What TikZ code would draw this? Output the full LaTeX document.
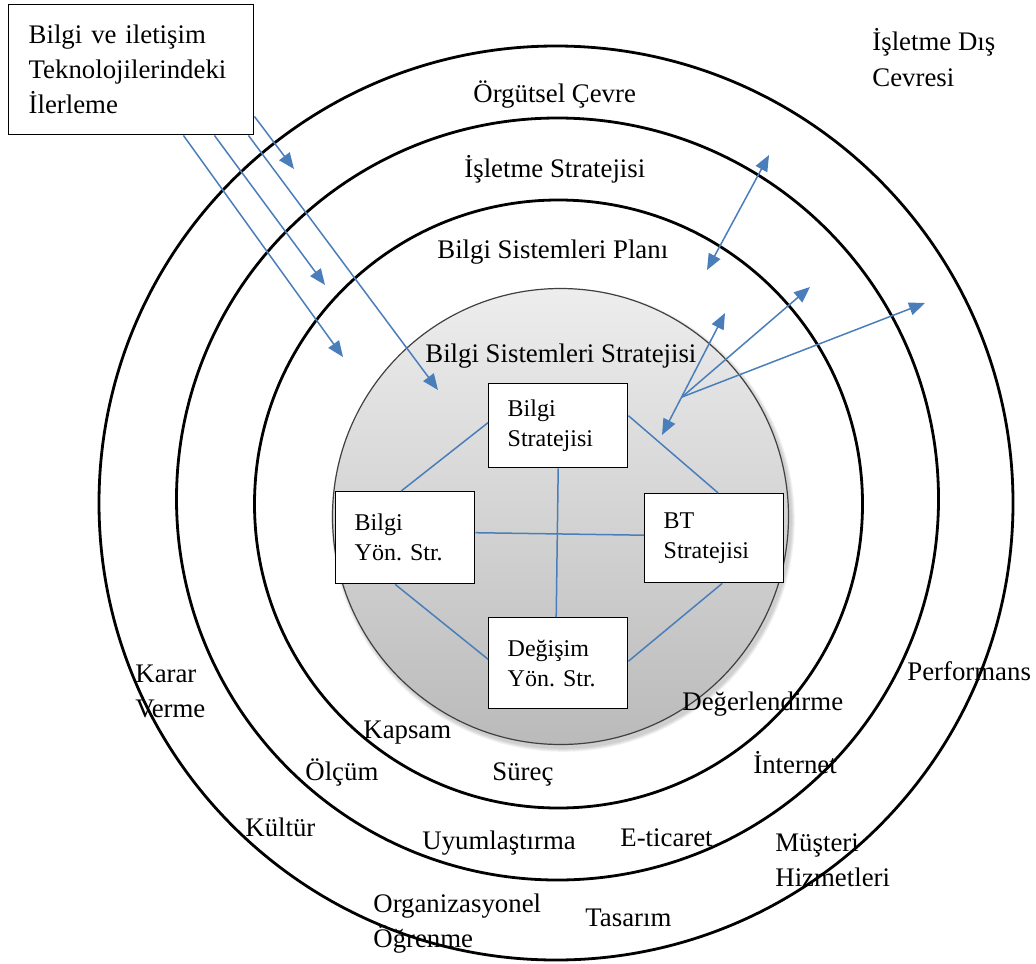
\documentclass[tikz,border=0pt]{standalone}
\usepackage{fontspec}
\setmainfont{Liberation Serif}
\usetikzlibrary{arrows.meta}
\definecolor{linkblue}{RGB}{74,126,187}
\begin{document}
\frenchspacing
\begin{tikzpicture}[x=0.5pt,y=-0.5pt,
  ring/.style={draw=black, line width=1.4pt},
  lbl/.style={anchor=base west, inner sep=0pt, align=left,
    font=\fontsize{13.4}{17.5}\selectfont},
  stratbox/.style={draw=black, line width=0.7pt, fill=white, anchor=north west,
    text width=50.5pt, inner xsep=9.5pt, align=left,
    font=\fontsize{12}{15}\selectfont},
  link/.style={draw=linkblue, line width=0.75pt},
  flow/.style={link, -{Triangle[length=8pt,width=6.5pt]}},
  both/.style={link, {Triangle[length=8pt,width=6.5pt]}-{Triangle[length=8pt,width=6.5pt]}}
]
\useasboundingbox (0,0) rectangle (1036,963);

% concentric rings
\draw[ring] (556,503) circle[radius=228.5pt];
\draw[ring] (557.5,499) circle[radius=190.5pt];
\draw[ring] (558.5,504) circle[radius=152pt];

% soft shadow and shaded core
\foreach \r in {0.4,0.9,1.4,1.9}
  \fill[black, opacity=0.05] (563,520) circle[radius=114pt+\r pt];
\shade[top color=black!7, bottom color=black!27] (560.5,516.5) circle[radius=114pt];
\draw[black!75, line width=0.6pt] (560.5,516.5) circle[radius=114pt];

% ring titles (multi-line labels are placed at the baseline of their last line)
\node[lbl] (org) at (473,102) {Örgütsel Çevre};
\node[lbl] (isl) at (464,177) {İşletme Stratejisi};
\node[lbl] (bsp) at (437,258) {Bilgi Sistemleri Planı};
\node[lbl] (bss) at (425,362) {Bilgi Sistemleri Stratejisi};
\node[lbl] (dis) at (872,86) {İşletme Dış\\Cevresi};

% source box
\node[draw=black, line width=0.7pt, fill=white, anchor=north west,
  minimum height=65pt, text width=102.5pt, inner xsep=10pt, align=left,
  font=\fontsize{13.4}{17.5}\selectfont] (ict) at (8,4)
  {Bilgi ve iletişim\\Teknolojilerindeki\\İlerleme};

% strategy boxes
\node[stratbox, minimum height=42pt] (bs) at (488,383) {Bilgi\\Stratejisi};
\node[stratbox, minimum height=46pt] (by) at (335,491) {Bilgi\\Yön. Str.};
\node[stratbox, minimum height=45.5pt] (ds) at (488,617) {Değişim\\Yön. Str.};
\node[stratbox, minimum height=44.5pt] (bt) at (644,493) {BT\\Stratejisi};

% links between strategy boxes
\draw[link] ([yshift=1.5pt]bs.west) -- ([xshift=-2pt]by.north);
\draw[link] ([yshift=5pt]bs.east) -- ([xshift=2pt]bt.north);
\draw[link] (bs.south) -- ([xshift=-1pt]ds.north);
\draw[link] ([yshift=2.5pt]by.east) -- ([yshift=1.5pt]bt.west);
\draw[link] ([xshift=-5pt]by.south) -- ([yshift=2pt]ds.west);
\draw[link] ([xshift=4pt]bt.south) -- ([yshift=1pt]ds.east);

% arrows from the technology box
\coordinate (t1) at (294,169);
\coordinate (t2) at (438,390);
\coordinate (t3) at (325,285);
\coordinate (t4) at (343,357);
\draw[flow] ([yshift=9.5pt]ict.south east) -- (t1);
\draw[flow] ([xshift=-3pt]ict.south east) -- (t2);
\draw[flow] ([xshift=-20pt]ict.south east) -- (t3);
\draw[flow] ([xshift=-35.5pt]ict.south east) -- (t4);

% interaction arrows on the right
\coordinate (u1) at (707,270);
\coordinate (u2) at (769,155);
\coordinate (v1) at (662,435);
\coordinate (v2) at (725,313);
\coordinate (hub) at (682,397);
\coordinate (w1) at (810,287);
\coordinate (w2) at (925,303);
\draw[both] (u1) -- (u2);
\draw[both] (v1) -- (v2);
\draw[flow] (hub) -- (w1);
\draw[flow] (hub) -- (w2);

% factors
\node[lbl] (karar) at (135,717) {Karar\\Verme};
\node[lbl] (kapsam) at (363,738) {Kapsam};
\node[lbl] (olcum) at (305,780) {Ölçüm};
\node[lbl] (surec) at (492,780) {Süreç};
\node[lbl] (kultur) at (245,836) {Kültür};
\node[lbl] (uyum) at (422,849) {Uyumlaştırma};
\node[lbl] (ogr) at (373,947) {Organizasyonel\\Öğrenme};
\node[lbl] (deger) at (682,710) {Değerlendirme};
\node[lbl] (perf) at (907,680) {Performans};
\node[lbl] (inet) at (753,773) {İnternet};
\node[lbl] (etic) at (620,846) {E-ticaret};
\node[lbl] (must) at (775,886) {Müşteri\\Hizmetleri};
\node[lbl] (tas) at (585,926) {Tasarım};
\end{tikzpicture}
\end{document}
